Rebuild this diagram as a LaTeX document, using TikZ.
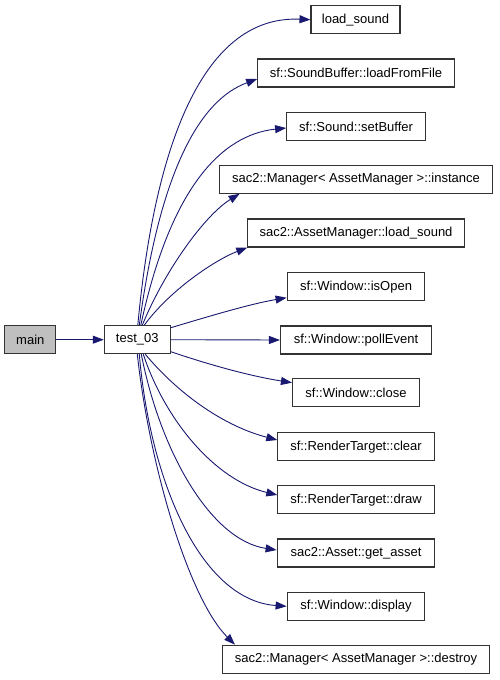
\documentclass[tikz,border=0pt]{standalone}
\usepackage{fontspec}
\setmainfont{Liberation Sans}
\usetikzlibrary{arrows.meta}
\definecolor{edgeblue}{HTML}{191970}
\definecolor{boxline}{HTML}{333333}
\begin{document}
\begin{tikzpicture}[x=1pt,y=-1pt,
  fn/.style={draw=boxline, line width=1.1pt, fill=white, minimum height=28pt, inner sep=0pt, font=\fontsize{13}{15}\selectfont},
  call/.style={draw=edgeblue, line width=0.9pt, -{Triangle[length=11pt,width=8pt]}}]
\useasboundingbox (0,0) rectangle (499,680);
\node[fn, fill={rgb,255:red,191;green,191;blue,191}, minimum width=51pt] (main) at (30.3,339.7) {main};
\node[fn, minimum width=66pt] (t) at (137.3,339.7) {test\_03};
\node[fn, minimum width=89pt]    (n1)  at (355.5,19.7)  {load\_sound};
\node[fn, minimum width=196.6pt] (n2)  at (356,73)      {sf::SoundBuffer::loadFromFile};
\node[fn, minimum width=138.7pt] (n3)  at (356,126.5)   {sf::Sound::setBuffer};
\node[fn, minimum width=273.7pt] (n4)  at (356,179.2)   {sac2::Manager< AssetManager >::instance};
\node[fn, minimum width=216.3pt] (n5)  at (356,233)     {sac2::AssetManager::load\_sound};
\node[fn, minimum width=137.7pt] (n6)  at (356,286.7)   {sf::Window::isOpen};
\node[fn, minimum width=151pt]   (n7)  at (356,340)     {sf::Window::pollEvent};
\node[fn, minimum width=127pt]   (n8)  at (356,392.7)   {sf::Window::close};
\node[fn, minimum width=156.3pt] (n9)  at (356,446.7)   {sf::RenderTarget::clear};
\node[fn, minimum width=156.3pt] (n10) at (356,499.7)   {sf::RenderTarget::draw};
\node[fn, minimum width=157.7pt] (n11) at (356,553)     {sac2::Asset::get\_asset};
\node[fn, minimum width=137.7pt] (n12) at (356,606.3)   {sf::Window::display};
\node[fn, minimum width=267pt]   (n13) at (356,659.2)   {sac2::Manager< AssetManager >::destroy};

\draw[call] (main) -- (t);
\draw[call] ([xshift=0.5pt]t.north) .. controls (155,140) and (205,15) .. (n1.west);
\draw[call] ([xshift=2pt]t.north) .. controls (160,170) and (200,100) .. ([yshift=-6pt]n2.west);
\draw[call] ([xshift=3.5pt]t.north) .. controls (170,190) and (220,135) .. ([yshift=-1.5pt]n3.west);
\draw[call] ([xshift=5pt]t.north) .. controls (165,270) and (205,215) .. ([xshift=21pt]n4.south west);
\draw[call] ([xshift=7pt]t.north) .. controls (170,290) and (215,260) .. (n5.south west);
\draw[call] ([yshift=12pt]t.east) .. controls (210,316) and (250,304) .. ([yshift=-11pt]n6.west);
\draw[call] (t.east) -- (n7.west);
\draw[call] ([yshift=-12pt]t.east) .. controls (210,365) and (250,376) .. ([yshift=10pt]n8.west);
\draw[call] ([xshift=8pt]t.south) .. controls (175,390) and (220,425) .. ([yshift=6.7pt]n9.west);
\draw[call] ([xshift=6pt]t.south) .. controls (165,420) and (215,480) .. ([yshift=4.7pt]n10.west);
\draw[call] ([xshift=4pt]t.south) .. controls (160,450) and (210,540) .. ([yshift=3pt]n11.west);
\draw[call] ([xshift=2pt]t.south) .. controls (150,480) and (200,600) .. (n12.west);
\draw[call] (t.south) .. controls (150,470) and (190,600) .. ([xshift=13pt]n13.north west);
\end{tikzpicture}
\end{document}
